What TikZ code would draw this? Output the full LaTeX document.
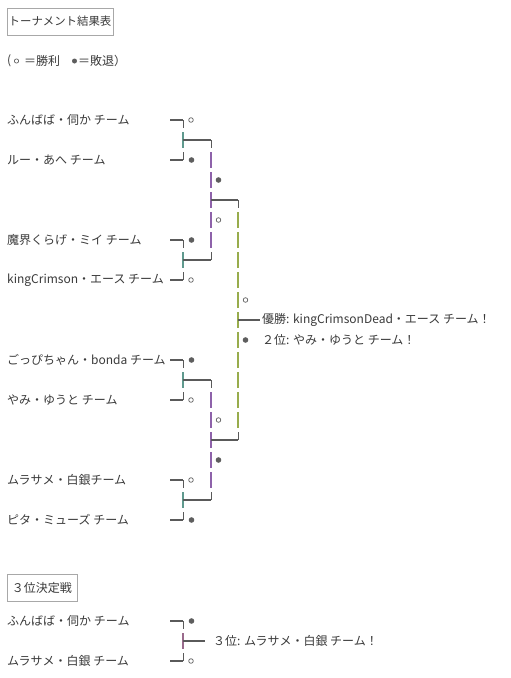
\documentclass[tikz,border=0pt]{standalone}
\usepackage{fontspec}
\setmainfont{Noto Sans CJK JP}
\usetikzlibrary{calc}
\definecolor{txtc}{HTML}{3A3A3A}
\definecolor{linec}{HTML}{5A5A5A}
\definecolor{markc}{HTML}{5E5E5E}
\definecolor{boxc}{HTML}{A8A8A8}
\definecolor{vone}{HTML}{5F9A8E}
\definecolor{vtwo}{HTML}{8E62AA}
\definecolor{vthree}{HTML}{98AC4C}
\definecolor{vfour}{HTML}{9A6A8C}
\newcommand\bjoin[6]{%
  \coordinate (#1t) at (#2,#3);
  \coordinate (#1b) at (#2,#4);
  \coordinate (#1m) at (#2,{(#3+#4)/2});
  \coordinate (#1o) at (#5,{(#3+#4)/2});
  \draw[stub] (#1t) -- ($(#1t)+(0,8)$);
  \draw[stub] (#1b) -- ($(#1b)+(0,-8)$);
  \draw[vdash,draw=#6] ($(#1t)+(0,12)$) -- ($(#1b)+(0,-12)$);
  \draw[hline] (#1m) -- (#1o);
}
\newcommand\bstubs[1]{%
  \draw[hline] ($(#1t)+(-13,0)$) -- (#1t);
  \draw[hline] ($(#1b)+(-13,0)$) -- (#1b);
}
\begin{document}
\begin{tikzpicture}[x=1pt,y=-1pt,
  txt/.style={anchor=west, inner sep=0pt, text=txtc, font=\fontsize{12}{14}\selectfont},
  hline/.style={draw=linec, line width=2pt},
  stub/.style={draw=linec, line width=1pt},
  vdash/.style={line width=1.1pt, dash pattern=on 16pt off 4pt},
  win/.style={circle, draw=markc, line width=0.7pt, minimum size=4.6pt, inner sep=0pt},
  lose/.style={circle, fill=markc, minimum size=5.6pt, inner sep=0pt},
  tbox/.style={draw=boxc, line width=1pt},
]
\useasboundingbox[fill=white] (0,0) rectangle (511,678);

% title and legend
\draw[tbox] (7,8) rectangle (113,35);
\node[text=txtc, font=\fontsize{11.4}{13}\selectfont, inner sep=0pt] (title) at (60,21.5) {トーナメント結果表};
\node[txt] (lg1) at (7,60.5) {(};
\node[win, minimum size=4.2pt] (lgw) at (16.5,61) {};
\node[txt] (lg2) at (24,60.5) {＝勝利};
\node[lose, minimum size=5pt] (lgl) at (74.5,61) {};
\node[txt] (lg3) at (78,60.5) {＝敗退）};

% team names
\node[txt] (n1) at (7,120) {ふんばば・伺か チーム};
\node[txt] (n2) at (7,160) {ルー・あへ チーム};
\node[txt] (n3) at (7,240) {魔界くらげ・ミイ チーム};
\node[txt] (n4) at (7,280) {kingCrimson・エース チーム};
\node[txt] (n5) at (7,360) {ごっぴちゃん・bonda チーム};
\node[txt] (n6) at (7,400) {やみ・ゆうと チーム};
\node[txt] (n7) at (7,480) {ムラサメ・白銀チーム};
\node[txt] (n8) at (7,520) {ピタ・ミューズ チーム};

% first round
\bjoin{ra}{183}{120}{160}{211}{vone}\bstubs{ra}
\bjoin{rb}{183}{240}{280}{211}{vone}\bstubs{rb}
\bjoin{rc}{183}{360}{400}{211}{vone}\bstubs{rc}
\bjoin{rd}{183}{480}{520}{211}{vone}\bstubs{rd}
% second round
\bjoin{sa}{211}{140}{260}{238}{vtwo}
\bjoin{sb}{211}{380}{500}{238}{vtwo}
% final
\bjoin{fa}{238}{200}{440}{260}{vthree}

% markers
\node[win]  (m1) at (191,120) {};
\node[lose] (m2) at (191.5,160) {};
\node[lose] (m3) at (191.5,240) {};
\node[win]  (m4) at (191,280) {};
\node[lose] (m5) at (191.5,360) {};
\node[win]  (m6) at (191,400) {};
\node[win]  (m7) at (191,480) {};
\node[lose] (m8) at (191.5,520) {};
\node[lose] (m9) at (218.5,180) {};
\node[win]  (m10) at (218.5,220) {};
\node[win]  (m11) at (218.5,420) {};
\node[lose] (m12) at (218.5,460) {};
\node[win]  (m13) at (245.5,300) {};
\node[lose] (m14) at (245.5,340) {};

% results
\node[txt] (champ) at (262,320) {優勝: kingCrimsonDead・エース チーム！};
\node[txt] (second) at (262,340) {２位: やみ・ゆうと チーム！};

% third place
\draw[tbox] (7,574) rectangle (77,601);
\node[text=txtc, font=\fontsize{12}{14}\selectfont, inner sep=0pt] (third) at (42,587.5) {３位決定戦};
\node[txt] (p1) at (7,621) {ふんばば・伺か チーム};
\node[txt] (p2) at (7,661) {ムラサメ・白銀 チーム};
\bjoin{ta}{183}{621}{661}{205}{vfour}\bstubs{ta}
\node[lose] (m15) at (191.5,621) {};
\node[win]  (m16) at (191,661) {};
\node[txt] (thirdres) at (213,641) {３位: ムラサメ・白銀 チーム！};
\end{tikzpicture}
\end{document}
